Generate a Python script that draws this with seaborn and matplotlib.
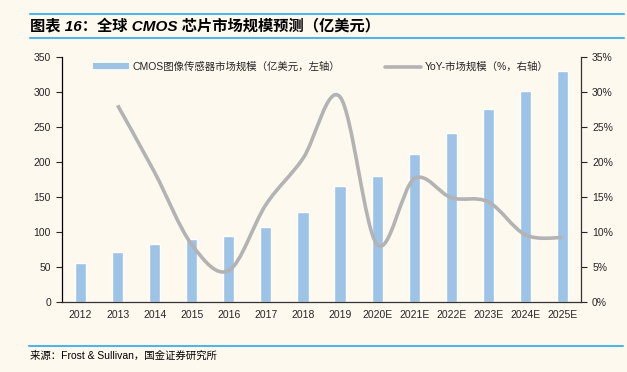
import numpy as np
import pandas as pd
import matplotlib
matplotlib.use('Agg')
import matplotlib.pyplot as plt
import seaborn as sns
from matplotlib.path import Path
from matplotlib.patches import PathPatch
from matplotlib.lines import Line2D
from matplotlib.patches import Patch

# 数据
years = ['2012', '2013', '2014', '2015', '2016', '2017', '2018', '2019',
         '2020E', '2021E', '2022E', '2023E', '2024E', '2025E']
market_size = [56, 71, 83, 90, 94, 107, 128, 166, 180, 211, 242, 276, 302, 330]
yoy = [None, 28.1, 18.5, 8.2, 4.5, 13.9, 20.5, 29.3, 8.2, 17.6, 14.9, 14.3, 9.6, 9.2]

bar_color = '#9DC3E6'
line_color = '#B3B3B3'
bg_color = '#FEF9EF'
blue_rule = '#4FB4E8'

sns.set_style('white')
plt.rcParams['font.family'] = ['Liberation Sans', 'Noto Sans CJK SC']
plt.rcParams['axes.unicode_minus'] = False

fig = plt.figure(figsize=(6.27, 3.72), dpi=100, facecolor=bg_color)
ax = fig.add_axes([0.0989, 0.1882, 0.8277, 0.6586])
ax.set_facecolor(bg_color)

df = pd.DataFrame({'year': years, 'size': market_size})
sns.barplot(data=df, x='year', y='size', color=bar_color, width=0.3,
            saturation=1, ax=ax, zorder=2)

ax.set_xlim(-0.5, len(years) - 0.5)
ax.set_ylim(0, 350)
ax.set_yticks(np.arange(0, 351, 50))
ax.set_xlabel('')
ax.set_ylabel('')

# x轴：刻度线在类别边界，标签在中心
ax.set_xticks(np.arange(-0.5, len(years), 1))
ax.set_xticklabels([])
ax.set_xticks(np.arange(len(years)), minor=True)
ax.set_xticklabels(years, minor=True, fontsize=7.5)
ax.tick_params(axis='x', which='major', direction='out', length=4, width=0.8, color='#333333')
ax.tick_params(axis='x', which='minor', length=0, pad=6)
ax.tick_params(axis='y', direction='out', length=4, width=0.8, labelsize=7.5, pad=4)

for side in ['top', 'right']:
    ax.spines[side].set_visible(False)
ax.spines['left'].set_color('black')
ax.spines['bottom'].set_color('#333333')
ax.spines['left'].set_linewidth(0.9)
ax.spines['bottom'].set_linewidth(0.9)

# 右轴
ax2 = ax.twinx()
ax2.set_ylim(0, 35)
ax2.set_yticks(np.arange(0, 36, 5))
ax2.set_yticklabels([f'{v}%' for v in range(0, 36, 5)])
ax2.tick_params(axis='y', direction='out', length=4, width=0.8, labelsize=7.5, pad=4)
for side in ['top', 'left', 'bottom']:
    ax2.spines[side].set_visible(False)
ax2.spines['right'].set_color('#333333')
ax2.spines['right'].set_linewidth(0.9)

# 平滑折线（贝塞尔曲线，控制点由数据点计算）
pts = np.array([(i, v) for i, v in enumerate(yoy) if v is not None], dtype=float)
verts = [tuple(pts[0])]
codes = [Path.MOVETO]
n = len(pts)
for i in range(n - 1):
    p0 = pts[i - 1] if i > 0 else pts[i]
    p1 = pts[i]
    p2 = pts[i + 1]
    p3 = pts[i + 2] if i + 2 < n else pts[i + 1]
    c1 = p1 + (p2 - p0) / 6.0
    c2 = p2 - (p3 - p1) / 6.0
    verts += [tuple(c1), tuple(c2), tuple(p2)]
    codes += [Path.CURVE4, Path.CURVE4, Path.CURVE4]
ax2.add_patch(PathPatch(Path(verts, codes), facecolor='none', edgecolor=line_color,
                        linewidth=2.6, capstyle='butt', zorder=3))

# 图例
handles = [Patch(facecolor=bar_color, edgecolor='none'),
           Line2D([0], [0], color=line_color, linewidth=2.6)]
labels = ['CMOS图像传感器市场规模（亿美元，左轴）', 'YoY-市场规模（%，右轴）']
leg = ax.legend(handles, labels, ncol=2, frameon=False, fontsize=7.5,
                loc='upper left', bbox_to_anchor=(0.142, 0.845),
                bbox_transform=fig.transFigure, handlelength=3.4, handleheight=0.5,
                handletextpad=0.4, columnspacing=4.3, borderaxespad=0)

# 标题与来源
fig.add_artist(Line2D([0.048, 0.995], [0.963, 0.963], color=blue_rule, linewidth=1.5))
fig.add_artist(Line2D([0.048, 0.995], [0.897, 0.897], color=blue_rule, linewidth=1.5))
fig.text(0.048, 0.931, '图表 16：全球 CMOS 芯片市场规模预测（亿美元）', fontsize=11,
         fontweight='bold', fontstyle='italic', va='center', ha='left', color='black')
fig.add_artist(Line2D([0.046, 0.994], [0.071, 0.071], color=blue_rule, linewidth=1.5))
fig.text(0.048, 0.043, '来源：Frost & Sullivan，国金证券研究所', fontsize=7.5,
         va='center', ha='left', color='black')

fig.savefig('out.png', dpi=100, facecolor=bg_color)
